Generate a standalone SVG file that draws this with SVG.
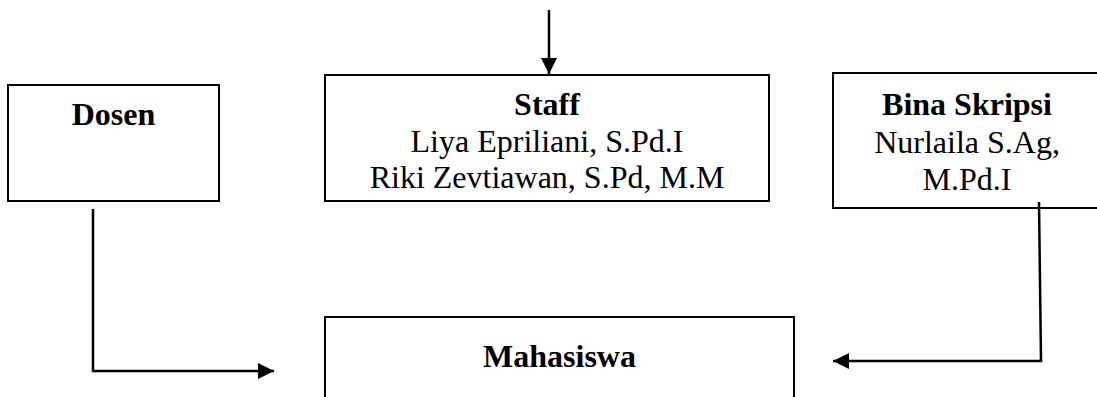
<svg xmlns="http://www.w3.org/2000/svg" width="1097" height="397" viewBox="0 0 1097 397">
<style>
.box{fill:#fff;stroke:#000;stroke-width:2}
.t{font-family:"Liberation Serif","Times New Roman",serif;font-size:32px;fill:#000;text-anchor:middle}
.b{font-weight:bold}
.c{fill:none;stroke:#000;stroke-width:2.5}
</style>
<defs>
<marker id="ah" markerUnits="userSpaceOnUse" markerWidth="18" markerHeight="18" refX="16" refY="8" orient="auto">
<path d="M0,0 L16,8 L0,16 z" fill="#000"/>
</marker>
</defs>
<rect width="1097" height="397" fill="#fff"/>
<g id="dosen">
<rect class="box" x="8" y="85" width="211" height="116"/>
<text class="t b" x="113.5" y="125">Dosen</text>
</g>
<g id="staff">
<rect class="box" x="325" y="75" width="444" height="126"/>
<text class="t b" x="547" y="115">Staff</text>
<text class="t" x="547" y="152">Liya Epriliani, S.Pd.I</text>
<text class="t" x="547" y="188">Riki Zevtiawan, S.Pd, M.M</text>
</g>
<g id="bina-skripsi">
<rect class="box" x="833" y="73" width="268" height="135"/>
<text class="t b" x="967" y="115">Bina Skripsi</text>
<text class="t" x="967" y="153">Nurlaila S.Ag,</text>
<text class="t" x="967" y="190">M.Pd.I</text>
</g>
<g id="mahasiswa">
<rect class="box" x="325" y="317" width="469" height="100"/>
<text class="t b" x="559.5" y="367">Mahasiswa</text>
</g>
<g id="connectors">
<path class="c" d="M549,10 L549,74" marker-end="url(#ah)"/>
<path class="c" d="M93,209 L93,371 L274,371" marker-end="url(#ah)"/>
<path class="c" d="M1039,202 L1041,361 L833,361" marker-end="url(#ah)"/>
</g>
</svg>
